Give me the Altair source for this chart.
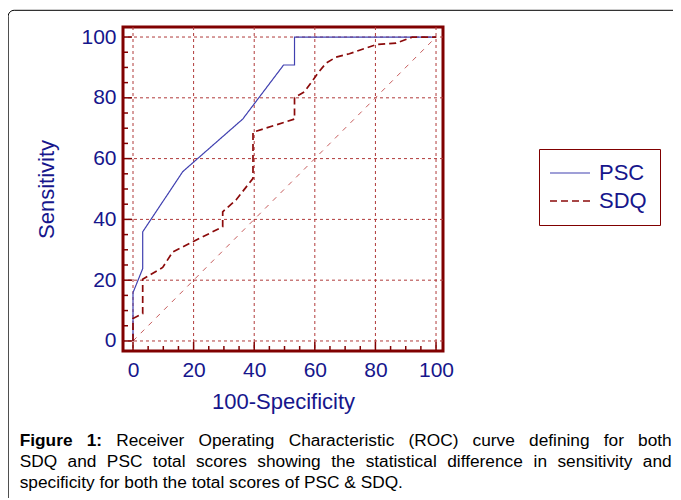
import altair as alt
import pandas as pd

# ---------------- data ----------------
series_names = ["PSC", "SDQ"]
psc_x = [0, 0, 3.2, 3.2, 16.4, 36.2, 49.7, 53.3, 53.3, 100]
psc_y = [0, 15.9, 23.8, 35.9, 55.7, 73.0, 90.8, 90.8, 100, 100]
sdq_x = [0, 0, 3.2, 3.2, 5.4, 9.8, 13.1, 19.7, 29.6, 29.6, 34.0, 39.6, 39.6,
         53.3, 53.3, 56.6, 61.0, 63.7, 67.0, 71.4, 80.2, 86.8, 92.3, 100]
sdq_y = [0, 7.4, 9.0, 20.3, 21.6, 24.2, 29.3, 32.6, 37.6, 42.5, 46.4, 53.5, 68.7,
         73.0, 80.1, 82.0, 88.1, 91.4, 93.4, 94.5, 97.5, 98.0, 100, 100]
ref_x = [0, 100]
ref_y = [0, 100]
major_ticks = [0, 20, 40, 60, 80, 100]
minor_ticks = [5, 10, 15, 25, 30, 35, 45, 50, 55, 65, 70, 75, 85, 90, 95]
x_title = "100-Specificity"
y_title = "Sensitivity"
caption_bold = "Figure 1:"
caption_lines = [
    "Receiver Operating Characteristic (ROC) curve defining for both",
    "SDQ and PSC total scores showing the statistical difference in sensitivity and",
    "specificity for both the total scores of PSC & SDQ.",
]

# ---------------- styling ----------------
NAVY = "#16168c"
FRAME = "#800000"
GRID = "#b03a3a"
BLUE = "#4040b0"
RED = "#8b0a0a"
FONT = "Liberation Sans"
W, H = 320, 324
CAP_FS = 17.3

# Arial / Liberation Sans advance widths (per 1000 em) used to justify the caption
REG = {" ": 278, "(": 333, ")": 333, "&": 667, ".": 278, ":": 278, "-": 333}
for c in "abdeghnopqu":
    REG[c] = 556
for c in "cksvxyz":
    REG[c] = 500
REG.update({"f": 278, "i": 222, "j": 222, "l": 222, "m": 833, "r": 333, "t": 278, "w": 722})
REG.update({"A": 667, "B": 667, "C": 722, "D": 722, "E": 667, "F": 611, "O": 778,
            "P": 667, "Q": 778, "R": 722, "S": 667})
for c in "0123456789":
    REG[c] = 556
BOLD = {"F": 611, "i": 278, "g": 611, "u": 611, "r": 389, "e": 556, "1": 556, ":": 333, " ": 278}


def text_w(s, table):
    return sum(table.get(ch, 556) for ch in s) / 1000.0 * CAP_FS


rows = []
for i, (x, y) in enumerate(zip(psc_x, psc_y)):
    rows.append({"series": "PSC", "x": x, "y": y, "order": i})
for i, (x, y) in enumerate(zip(sdq_x, sdq_y)):
    rows.append({"series": "SDQ", "x": x, "y": y, "order": i})
curves = pd.DataFrame(rows)
ref = pd.DataFrame({"x": ref_x, "y": ref_y})
grid = pd.DataFrame({"v": major_ticks})
minor = pd.DataFrame({"v": minor_ticks})
one = pd.DataFrame({"k": [0]})

xs = alt.Scale(domain=[-3.3, 102.3], nice=False, zero=False)
ys = alt.Scale(domain=[-3.3, 103.3], nice=False, zero=False)

x_axis = alt.Axis(values=major_ticks, ticks=False, tickSize=0, domain=False, grid=False,
                  labelFontSize=21, labelColor=NAVY, labelFont=FONT, labelPadding=8,
                  title=x_title, titleFontSize=22, titleColor=NAVY, titleFont=FONT,
                  titleFontWeight="normal", titlePadding=11)
y_axis = alt.Axis(values=major_ticks, ticks=False, tickSize=0, domain=False, grid=False,
                  labelFontSize=21, labelColor=NAVY, labelFont=FONT, labelPadding=7,
                  title=y_title, titleFontSize=22, titleColor=NAVY, titleFont=FONT,
                  titleFontWeight="normal", titlePadding=22)

vgrid = alt.Chart(grid).mark_rule(color=GRID, strokeWidth=1, strokeDash=[3, 3]).encode(
    x=alt.X("v:Q", scale=xs, axis=x_axis))
hgrid = alt.Chart(grid).mark_rule(color=GRID, strokeWidth=1, strokeDash=[3, 3]).encode(
    y=alt.Y("v:Q", scale=ys, axis=y_axis))

diag = alt.Chart(ref).mark_line(color="#bf4a4a", strokeWidth=0.9, strokeDash=[5, 6]).encode(
    x=alt.X("x:Q", scale=xs, axis=x_axis), y=alt.Y("y:Q", scale=ys, axis=y_axis))

# legend sample line: a horizontal stroke 40px long, laid out in a 20px slot
legend = alt.Legend(title=None, orient="none", legendX=416, legendY=122, direction="vertical",
                    strokeColor=FRAME, fillColor="white", padding=13,
                    labelFontSize=22, labelColor=NAVY, labelFont=FONT,
                    symbolType="M-1.3,0H2.7", symbolSize=400, symbolStrokeWidth=1.5,
                    symbolFillColor="transparent",
                    labelOffset=25, rowPadding=6)

lines = alt.Chart(curves).mark_line().encode(
    x=alt.X("x:Q", scale=xs, axis=x_axis),
    y=alt.Y("y:Q", scale=ys, axis=y_axis),
    color=alt.Color("series:N", scale=alt.Scale(domain=series_names, range=[BLUE, RED]), legend=legend),
    strokeDash=alt.StrokeDash("series:N", scale=alt.Scale(domain=series_names, range=[[1, 0], [7, 4]]), legend=legend),
    strokeWidth=alt.StrokeWidth("series:N", scale=alt.Scale(domain=series_names, range=[1.2, 1.7]), legend=None),
    order="order:Q",
)

xt_major = alt.Chart(grid).mark_rule(color=FRAME, strokeWidth=1.5).encode(
    x=alt.X("v:Q", scale=xs, axis=x_axis), y=alt.value(H), y2=alt.value(H - 9))
xt_minor = alt.Chart(minor).mark_rule(color=FRAME, strokeWidth=1.5).encode(
    x=alt.X("v:Q", scale=xs, axis=x_axis), y=alt.value(H), y2=alt.value(H - 5))
yt_major = alt.Chart(grid).mark_rule(color=FRAME, strokeWidth=1.5).encode(
    y=alt.Y("v:Q", scale=ys, axis=y_axis), x=alt.value(0), x2=alt.value(9))
yt_minor = alt.Chart(minor).mark_rule(color=FRAME, strokeWidth=1.5).encode(
    y=alt.Y("v:Q", scale=ys, axis=y_axis), x=alt.value(0), x2=alt.value(5))

outer = alt.Chart(one).mark_rect(filled=False, stroke="black", strokeWidth=1, cornerRadius=6).encode(
    x=alt.value(-114.8), x2=alt.value(700), y=alt.value(-16.7), y2=alt.value(700))

# ---- caption: lines 1 and 2 justified, line 3 left aligned ----
CAP_LEFT = -103.3   # relative to plot origin
CAP_RIGHT = 548.7
CAP_Y = [413.8, 434.8, 455.8]


def justified(words, y):
    widths = [text_w(w, BOLD if b else REG) for w, b in words]
    gap = (CAP_RIGHT - CAP_LEFT - sum(widths)) / (len(words) - 1)
    layers = []
    x = CAP_LEFT
    for (w, b), wd in zip(words, widths):
        layers.append(
            alt.Chart(one).mark_text(text=w, font=FONT, fontSize=CAP_FS,
                                     fontWeight="bold" if b else "normal",
                                     align="left", baseline="middle", color="black")
            .encode(x=alt.value(round(x, 2)), y=alt.value(y)))
        x += wd + gap
    return layers


line1 = [(w, True) for w in caption_bold.split()] + [(w, False) for w in caption_lines[0].split()]
line2 = [(w, False) for w in caption_lines[1].split()]
cap_layers = justified(line1, CAP_Y[0]) + justified(line2, CAP_Y[1])
cap_layers.append(
    alt.Chart(one).mark_text(text=caption_lines[2], font=FONT, fontSize=CAP_FS,
                             align="left", baseline="middle", color="black")
    .encode(x=alt.value(CAP_LEFT), y=alt.value(CAP_Y[2])))

chart = alt.layer(
    outer, vgrid, hgrid, diag, lines, xt_major, xt_minor, yt_major, yt_minor,
    *cap_layers,
).properties(
    width=W, height=H,
    autosize=alt.AutoSizeParams(type="none"),
    padding={"left": 115, "top": 19, "right": 230, "bottom": 147},
    background="white",
).configure_view(stroke=FRAME, strokeWidth=3)

chart.save("out.html", embed_options={"renderer": "svg", "actions": False})
